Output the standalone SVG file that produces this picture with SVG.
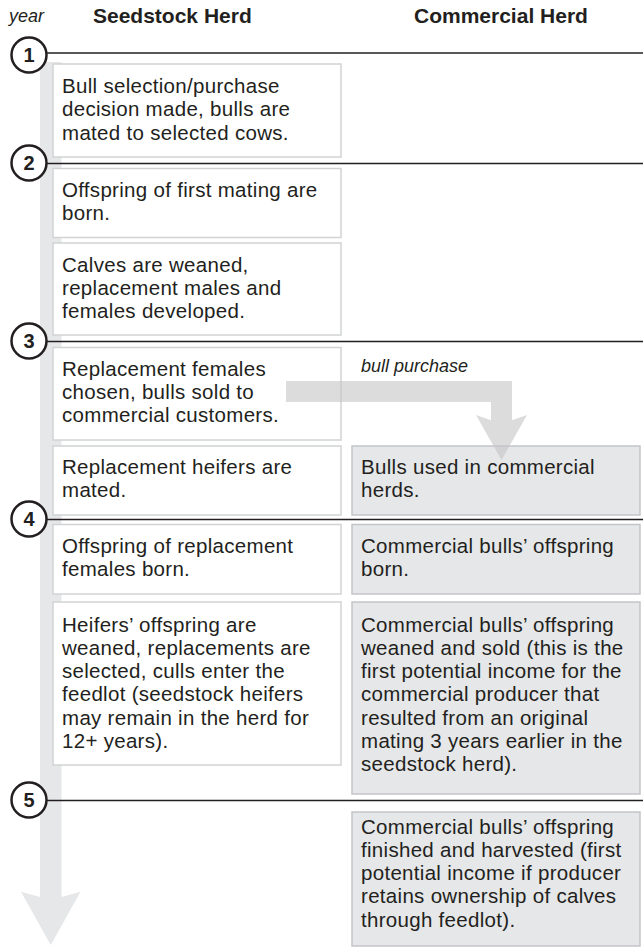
<svg xmlns="http://www.w3.org/2000/svg" width="643" height="949" viewBox="0 0 643 949">
<style>
  .t { font-family: "Liberation Sans", Arial, sans-serif; font-size: 20.5px; letter-spacing: 0.3px; fill: #231f20; }
  .h { font-family: "Liberation Sans", Arial, sans-serif; font-size: 21px; font-weight: bold; fill: #231f20; }
  .i { font-family: "Liberation Sans", Arial, sans-serif; font-size: 18px; font-style: italic; fill: #231f20; }
  .n { font-family: "Liberation Sans", Arial, sans-serif; font-size: 20px; font-weight: bold; fill: #231f20; text-anchor: middle; }
  .sb { fill: #ffffff; stroke: #d1d3d4; stroke-width: 1.5; }
  .cb { fill: #e6e7e8; stroke: #c4c5c7; stroke-width: 1.5; }
  .yl { stroke: #231f20; stroke-width: 1.5; }
  .yc { fill: #ffffff; stroke: #231f20; stroke-width: 2.5; }
</style>
<rect width="643" height="949" fill="#ffffff"/>
<g id="header">
  <text class="i" x="9" y="22">year</text>
  <text class="h" x="93" y="23">Seedstock Herd</text>
  <text class="h" x="414" y="23">Commercial Herd</text>
</g>
<g id="timeline">
  <path d="M40,62 H61.5 V897 L80.5,891.7 L50.75,945 L21,891.7 L40,897 Z" fill="#e6e7e8"/>
</g>
<g id="year-lines">
  <line class="yl" x1="46" y1="53" x2="643" y2="53"/>
  <line class="yl" x1="46" y1="163.5" x2="643" y2="163.5"/>
  <line class="yl" x1="46" y1="341.5" x2="643" y2="341.5"/>
  <line class="yl" x1="46" y1="519.5" x2="643" y2="519.5"/>
  <line class="yl" x1="46" y1="800.5" x2="643" y2="800.5"/>
</g>
<g id="year1"><circle class="yc" cx="29" cy="55" r="17.5"/><text class="n" x="29" y="62">1</text></g>
<g id="year2"><circle class="yc" cx="29" cy="163" r="17.5"/><text class="n" x="29" y="170">2</text></g>
<g id="year3"><circle class="yc" cx="29" cy="341" r="17.5"/><text class="n" x="29" y="348">3</text></g>
<g id="year4"><circle class="yc" cx="29" cy="519" r="17.5"/><text class="n" x="29" y="526">4</text></g>
<g id="year5"><circle class="yc" cx="29" cy="800" r="17.5"/><text class="n" x="29" y="807">5</text></g>

<g id="s1"><rect class="sb" x="53" y="64" width="288" height="93"/>
  <text class="t" x="62" y="93"><tspan x="62">Bull selection/purchase</tspan><tspan x="62" dy="23.3">decision made, bulls are</tspan><tspan x="62" dy="23.3">mated to selected cows.</tspan></text></g>
<g id="s2"><rect class="sb" x="53" y="168.5" width="288" height="69"/>
  <text class="t" x="62" y="197"><tspan x="62">Offspring of first mating are</tspan><tspan x="62" dy="23.3">born.</tspan></text></g>
<g id="s3"><rect class="sb" x="53" y="243" width="288" height="92"/>
  <text class="t" x="62" y="271.5"><tspan x="62">Calves are weaned,</tspan><tspan x="62" dy="23.3">replacement males and</tspan><tspan x="62" dy="23.3">females developed.</tspan></text></g>
<g id="s4"><rect class="sb" x="53" y="347.5" width="288" height="92.5"/>
  <text class="t" x="62" y="375.5"><tspan x="62">Replacement females</tspan><tspan x="62" dy="23.3">chosen, bulls sold to</tspan><tspan x="62" dy="23.3">commercial customers.</tspan></text></g>
<g id="s5"><rect class="sb" x="53" y="446" width="288" height="69"/>
  <text class="t" x="62" y="473.5"><tspan x="62">Replacement heifers are</tspan><tspan x="62" dy="23.3">mated.</tspan></text></g>
<g id="s6"><rect class="sb" x="53" y="524.5" width="288" height="69.5"/>
  <text class="t" x="62" y="552.5"><tspan x="62">Offspring of replacement</tspan><tspan x="62" dy="23.3">females born.</tspan></text></g>
<g id="s7"><rect class="sb" x="53" y="602" width="288" height="163"/>
  <text class="t" x="62" y="631.5"><tspan x="62">Heifers’ offspring are</tspan><tspan x="62" dy="23.3">weaned, replacements are</tspan><tspan x="62" dy="23.3">selected, culls enter the</tspan><tspan x="62" dy="23.3">feedlot (seedstock heifers</tspan><tspan x="62" dy="23.3">may remain in the herd for</tspan><tspan x="62" dy="23.3">12+ years).</tspan></text></g>

<g id="c5"><rect class="cb" x="352" y="446" width="288" height="69"/>
  <text class="t" x="361" y="473.5"><tspan x="361">Bulls used in commercial</tspan><tspan x="361" dy="23.3">herds.</tspan></text></g>
<g id="c6"><rect class="cb" x="352" y="524.5" width="288" height="69.5"/>
  <text class="t" x="361" y="552.5"><tspan x="361">Commercial bulls’ offspring</tspan><tspan x="361" dy="23.3">born.</tspan></text></g>
<g id="c7"><rect class="cb" x="352" y="602" width="288" height="192"/>
  <text class="t" x="361" y="631.5"><tspan x="361">Commercial bulls’ offspring</tspan><tspan x="361" dy="23.3">weaned and sold (this is the</tspan><tspan x="361" dy="23.3">first potential income for the</tspan><tspan x="361" dy="23.3">commercial producer that</tspan><tspan x="361" dy="23.3">resulted from an original</tspan><tspan x="361" dy="23.3">mating 3 years earlier in the</tspan><tspan x="361" dy="23.3">seedstock herd).</tspan></text></g>
<g id="c8"><rect class="cb" x="352" y="812" width="288" height="134"/>
  <text class="t" x="361" y="833.5"><tspan x="361">Commercial bulls’ offspring</tspan><tspan x="361" dy="23.3">finished and harvested (first</tspan><tspan x="361" dy="23.3">potential income if producer</tspan><tspan x="361" dy="23.3">retains ownership of calves</tspan><tspan x="361" dy="23.3">through feedlot).</tspan></text></g>

<g id="connectors">
  <text class="i" x="361" y="372">bull purchase</text>
  <path d="M286,381 H512 V420.3 L527,415 L501.5,460 L476,415 L491,420.3 V402 H286 Z" fill="#c4c5c7" fill-opacity="0.6"/>
</g>
</svg>
